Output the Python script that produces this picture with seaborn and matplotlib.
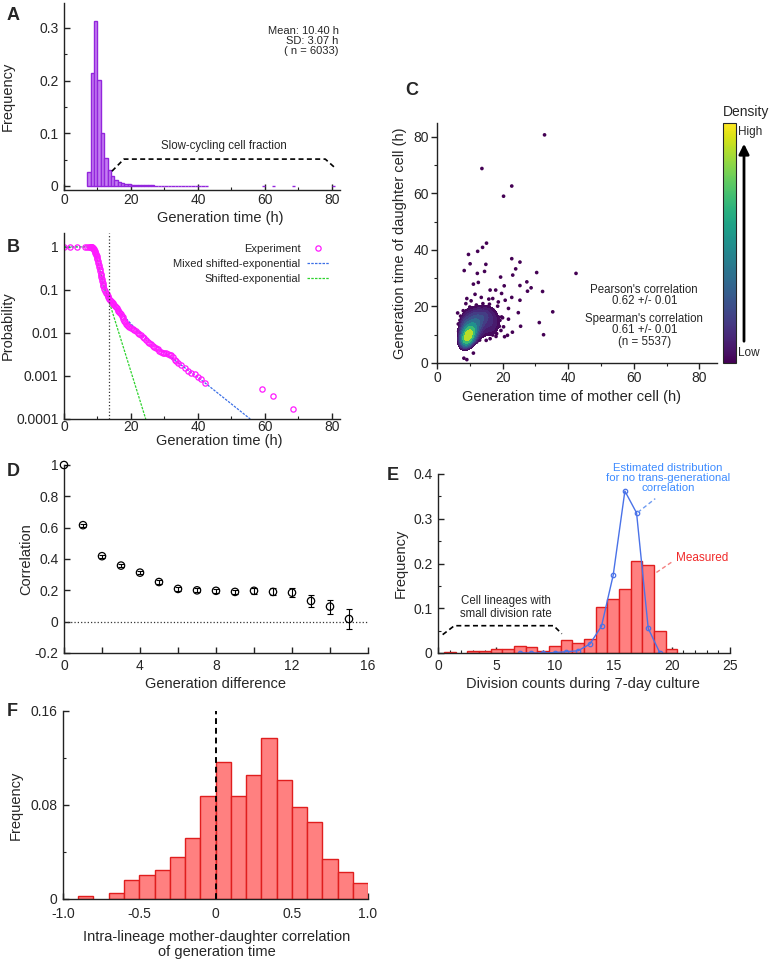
import numpy as np
import pandas as pd
import matplotlib
matplotlib.use("Agg")
import matplotlib.pyplot as plt
import matplotlib.ticker as mticker
from matplotlib.cm import ScalarMappable
from matplotlib.colors import Normalize
from matplotlib.patches import FancyArrowPatch
import seaborn as sns

# === Data ===
# A: generation time histogram (1 h bins, bin centres)
a_bin_center = [7.5, 8.5, 9.5, 10.5, 11.5, 12.5, 13.5, 14.5, 15.5, 16.5, 17.5, 18.5,
                19.5, 20.5, 21.5, 22.5, 23.5, 24.5, 25.5, 26.5, 27.5, 28.5, 29.5,
                30.5, 31.5, 32.5, 33.5, 34.5, 35.5, 36.5, 37.5, 38.5, 39.5, 40.5,
                41.5, 42.5, 59.5, 62.5, 68.5, 80.5]
a_freq = [0.027, 0.214, 0.312, 0.201, 0.100, 0.053, 0.030, 0.018, 0.011, 0.007,
          0.006, 0.004, 0.003, 0.002, 0.002, 0.0015, 0.0015, 0.001, 0.001, 0.001,
          0.0008, 0.0008, 0.0007, 0.0005, 0.0005, 0.0005, 0.0003, 0.0002, 0.0002,
          0.0002, 0.0002, 0.0002, 0.0002, 0.0002, 0.0002, 0.0002,
          0.00017, 0.00017, 0.00017, 0.00017]

# B: survival probability of generation time
b_time = [0.1, 1.8, 4.0, 6.3, 7.0, 7.5, 7.8, 8.0, 8.15, 8.25, 8.4, 8.5, 8.65, 8.75,
          8.9, 9.0, 9.15, 9.25, 9.4, 9.5, 9.65, 9.75, 9.9, 10.0, 10.15, 10.25, 10.4,
          10.5, 10.65, 10.75, 10.9, 11.0, 11.15, 11.25, 11.4, 11.5, 11.65, 11.75,
          12.0, 12.25, 12.5, 12.75, 13.0, 13.25, 13.5, 13.75, 14.0, 14.25, 14.5,
          14.75, 15.0, 15.25, 15.5, 15.75, 16.0, 16.25, 16.5, 16.75, 17.0, 17.25,
          17.5, 17.75, 18.0, 18.25, 18.5, 18.75, 19.0, 19.5, 20.0, 20.5, 21.0, 21.5,
          22.0, 22.5, 23.0, 23.5, 24.0, 24.5, 25.0, 25.5, 26.0, 26.5, 27.0, 27.5,
          28.0, 28.5, 29.0, 29.5, 30.0, 30.5, 31.0, 31.5, 32.0, 32.5, 33.0, 33.5,
          34.0, 35.0, 36.0, 37.0, 38.0, 39.0, 40.0, 41.0, 42.0, 59.0, 62.5, 68.5]
b_prob = [1.0, 1.0, 1.0, 1.0, 1.0, 1.0, 1.0, 0.99, 0.985, 0.98, 0.97, 0.96, 0.94,
          0.92, 0.89, 0.86, 0.82, 0.78, 0.73, 0.69, 0.64, 0.60, 0.55, 0.51, 0.46,
          0.42, 0.37, 0.34, 0.30, 0.28, 0.24, 0.22, 0.195, 0.18, 0.16, 0.145, 0.13,
          0.12, 0.105, 0.093, 0.085, 0.079, 0.073, 0.068, 0.063, 0.059, 0.056,
          0.053, 0.050, 0.047, 0.045, 0.042, 0.040, 0.037, 0.035, 0.033, 0.031,
          0.029, 0.027, 0.025, 0.023, 0.021, 0.019, 0.0177, 0.0165, 0.0156, 0.0148,
          0.0138, 0.0128, 0.0121, 0.0115, 0.0108, 0.0102, 0.0095, 0.0088, 0.0081,
          0.0075, 0.0069, 0.0063, 0.0059, 0.0055, 0.0051, 0.0048, 0.0045, 0.0042,
          0.0039, 0.0036, 0.0035, 0.0035, 0.0034, 0.0033, 0.0031, 0.0030, 0.0027,
          0.0024, 0.0022, 0.0020, 0.0018, 0.0015, 0.0013, 0.0012, 0.0011, 0.00095,
          0.00085, 0.00068, 0.0005, 0.00034, 0.00017]
b_mixed_t = [0, 8.0, 9.75, 10.7, 11.7, 12.9, 15.0, 18.0, 22.0, 30.0, 42.0, 55.6]
b_mixed_p = [1.0, 1.0, 0.6, 0.29, 0.12, 0.075, 0.045, 0.024, 0.011, 0.0035, 0.0007, 0.0001]
b_shift_t = [0, 8.0, 9.75, 11.0, 12.3, 13.3, 24.4]
b_shift_p = [1.0, 1.0, 0.55, 0.24, 0.1, 0.059, 0.0001]
b_threshold = 13.3

# C: mother vs daughter generation time (h)
c_mother = [
    # dense core
    9.3, 9.0, 9.6, 8.8, 9.9, 9.2, 8.6, 9.5, 10.2, 9.1, 8.9, 9.7, 10.0, 9.4, 8.4,
    10.4, 9.8, 9.2, 10.6, 8.7, 9.5, 11.0, 10.1, 8.3, 9.0, 10.8, 11.4, 9.6, 8.5,
    10.3, 12.0, 11.7, 9.9, 8.1, 10.7, 12.5, 11.2, 9.4, 13.0, 10.0, 9.3, 9.7, 9.1,
    9.8, 9.4, 10.1, 8.9, 9.6,
    # surrounding body
    7.0, 8.5, 12.1, 16.2, 18.2, 7.0, 9.0, 12.1, 15.2, 17.2, 18.7, 6.8, 6.6, 7.2,
    7.5, 7.8, 8.0, 8.3, 8.6, 9.0, 9.4, 9.8, 10.2, 10.5, 10.8, 11.2, 11.5, 11.8,
    12.2, 12.5, 12.8, 13.1, 13.4, 13.7, 14.0, 14.2, 14.5, 14.8, 15.1, 15.4, 15.8,
    16.1, 16.5, 16.9, 17.3, 17.7, 18.0, 17.5, 13.0, 11.0, 9.6, 15.0, 12.0, 10.0,
    8.0, 14.0, 16.0, 19.0, 19.5, 6.5, 7.2, 10.4, 13.5, 11.6, 8.8, 15.8, 18.5,
    20.0, 20.3, 17.0,
    7.4, 7.9, 8.2, 8.9, 10.6, 11.3, 11.9, 12.6, 13.3, 14.1, 14.9, 15.6, 16.4, 17.1,
    7.6, 8.4, 9.2, 10.0, 10.9, 11.7, 12.4, 13.2, 13.9, 14.6, 15.5, 16.3, 7.3, 8.7,
    10.3, 11.4, 12.9, 14.4, 16.0, 17.8, 9.5, 11.9, 13.6, 15.9, 18.4, 19.2,
    # outliers
    32.8, 13.7, 22.8, 20.3, 15.1, 13.9, 12.4, 9.6, 10.1, 22.8, 25.3, 14.9, 8.3,
    14.5, 24.0, 23.1, 30.4, 42.4, 19.4, 20.5, 27.4, 28.7, 27.6, 32.2, 25.3, 22.8,
    25.3, 35.3, 31.2, 25.5, 32.5, 23.0, 21.5, 20.6, 24.8, 21.8, 21.8, 6.3, 9.1,
    11.1, 12.6, 12.3, 8.2, 9.1, 11.1, 19.7, 17.9, 16.2, 17.0, 18.7, 20.8, 17.9,
    19.7]
c_daughter = [
    9.0, 9.3, 8.7, 9.5, 9.1, 8.4, 8.8, 9.8, 9.6, 9.9, 8.2, 10.1, 8.6, 8.9, 9.4,
    10.3, 10.6, 7.9, 9.2, 10.0, 11.0, 10.8, 11.4, 8.5, 10.5, 11.9, 10.6, 7.6, 7.8,
    12.4, 12.0, 13.1, 12.9, 9.6, 8.3, 13.6, 9.7, 11.8, 12.2, 7.5, 9.2, 9.4, 8.7,
    9.0, 9.6, 9.8, 9.1, 8.5,
    7.4, 6.3, 7.4, 8.6, 10.4, 15.1, 17.5, 18.9, 19.3, 18.7, 16.3, 9.0, 11.2, 12.8,
    10.3, 8.2, 13.5, 15.8, 11.8, 14.0, 16.2, 12.6, 15.1, 17.8, 13.8, 11.5, 16.4,
    14.5, 12.8, 10.2, 15.6, 17.2, 13.4, 11.6, 9.6, 15.9, 18.2, 12.7, 14.3, 10.8,
    16.8, 13.2, 11.4, 15.0, 12.5, 14.1, 9.4, 17.3, 8.1, 7.1, 6.6, 8.0, 20.5, 19.8,
    18.5, 21.0, 20.8, 13.0, 11.5, 13.8, 16.6, 22.0, 23.2, 24.3, 21.0, 22.6, 20.1,
    16.0, 12.8, 9.9,
    11.9, 14.8, 10.9, 16.9, 17.1, 18.0, 16.9, 17.8, 16.4, 17.3, 16.9, 17.9, 16.4,
    16.1, 14.0, 12.3, 13.2, 13.9, 14.6, 15.6, 14.9, 14.0, 15.3, 16.0, 13.5, 14.7,
    8.6, 7.3, 7.9, 8.8, 9.3, 10.1, 10.6, 11.7, 18.8, 19.9, 19.6, 18.4, 14.6, 15.1,
    80.7, 68.8, 62.6, 59.0, 42.4, 40.9, 39.5, 38.4, 35.1, 36.9, 35.7, 34.9, 32.7,
    32.4, 33.3, 31.1, 32.0, 31.7, 30.4, 27.3, 28.7, 26.6, 25.4, 25.3, 27.4, 23.2,
    22.2, 18.1, 14.3, 13.0, 10.0, 10.9, 9.8, 9.3, 17.8, 15.5, 19.3, 17.7, 22.8,
    27.9, 28.5, 31.7, 1.7, 1.2, 3.5, 24.6, 25.8, 25.8, 22.8, 21.6, 22.2, 17.5,
    16.3]

# D: correlation vs generation difference
d_gen = [0, 1, 2, 3, 4, 5, 6, 7, 8, 9, 10, 11, 12, 13, 14, 15]
d_corr = [1.0, 0.616, 0.418, 0.358, 0.313, 0.253, 0.209, 0.200, 0.197, 0.190,
          0.197, 0.190, 0.185, 0.132, 0.096, 0.017]
d_err = [0.0, 0.01, 0.01, 0.01, 0.01, 0.01, 0.012, 0.012, 0.012, 0.015, 0.02,
         0.022, 0.027, 0.037, 0.045, 0.062]

# E: division counts during 7-day culture
e_div = [1, 3, 4, 5, 6, 7, 8, 9, 10, 11, 12, 13, 14, 15, 16, 17, 18, 19, 20]
e_measured = [0.003, 0.005, 0.005, 0.008, 0.008, 0.016, 0.013, 0.005, 0.016,
              0.029, 0.023, 0.031, 0.102, 0.121, 0.143, 0.206, 0.197, 0.050, 0.009]
e_est_div = [7, 8, 9, 10, 11, 12, 13, 14, 15, 16, 17, 18, 19]
e_estimated = [0.0, 0.0, 0.0, 0.001, 0.003, 0.005, 0.02, 0.06, 0.174, 0.362,
               0.313, 0.055, 0.0]

# F: intra-lineage mother-daughter correlation
f_bin_center = [-0.85, -0.65, -0.55, -0.45, -0.35, -0.25, -0.15, -0.05, 0.05,
                0.15, 0.25, 0.35, 0.45, 0.55, 0.65, 0.75, 0.85, 0.95]
f_freq = [0.0023, 0.0048, 0.0159, 0.0204, 0.025, 0.036, 0.0516, 0.0874, 0.1166,
          0.0874, 0.1052, 0.1367, 0.1013, 0.0786, 0.0652, 0.0338, 0.0227, 0.0139]

W, H = 772, 959
TICK = 10
LAB = 10.5
AXC = "#222222"


def px_box(left, top, right, bottom):
    return [left / W, 1 - bottom / H, (right - left) / W, (bottom - top) / H]


def style_axis(ax, direction="in", xpad=1.5):
    sns.despine(ax=ax)
    for s in ("left", "bottom"):
        ax.spines[s].set_color(AXC)
        ax.spines[s].set_linewidth(1.0)
    ax.tick_params(which="major", direction=direction, length=4, width=1, color=AXC,
                   labelsize=TICK)
    ax.tick_params(which="minor", direction=direction, length=2.5, width=0.8, color=AXC)
    if direction == "in":
        ax.tick_params(axis="x", which="major", pad=xpad)
        ax.tick_params(axis="y", which="major", pad=4)
    else:
        ax.tick_params(which="major", pad=2)
    ax.grid(False)


def fmt_g(x, pos):
    return f"{round(x, 3):g}"


def freq_bars(ax, x, h, color, edge):
    # histogram bars from pre-binned frequencies, placed on a numeric axis
    sns.barplot(x=x, y=h, ax=ax, native_scale=True, width=1, color=color,
                edgecolor=edge, linewidth=1.0, saturation=1, errorbar=None)


def panel_a(fig):
    ax = fig.add_axes(px_box(64, 3, 340, 190))
    freq_bars(ax, a_bin_center, a_freq, "#c47ef2", "#9326dc")
    ax.set_xlim(0, 82.4)
    ax.set_ylim(-0.0076, 0.347)
    ax.xaxis.set_major_locator(mticker.MultipleLocator(20))
    ax.xaxis.set_major_formatter(mticker.FuncFormatter(fmt_g))
    ax.xaxis.set_minor_locator(mticker.MultipleLocator(10))
    ax.yaxis.set_major_locator(mticker.FixedLocator([0, 0.1, 0.2, 0.3]))
    ax.yaxis.set_minor_locator(mticker.FixedLocator([0.05, 0.15, 0.25]))
    ax.yaxis.set_major_formatter(mticker.FuncFormatter(fmt_g))
    style_axis(ax, xpad=2.5)
    ax.set_xlabel("Generation time (h)", fontsize=LAB)
    ax.set_ylabel("Frequency", fontsize=LAB)
    ax.xaxis.set_label_coords(0.565, -0.114)
    ax.yaxis.set_label_coords(-0.178, 0.5)
    ax.text(0.995, 0.875, "Mean: 10.40 h\nSD: 3.07 h\n( n = 6033)", transform=ax.transAxes,
            ha="right", va="top", fontsize=8, linespacing=1.0)
    ax.plot([14.3, 17.9, 78.0, 81.0], [0.028, 0.051, 0.051, 0.034], ls="--",
            color="black", lw=1.2, dashes=(3, 2))
    ax.text(47.8, 0.064, "Slow-cycling cell fraction", ha="center", va="bottom", fontsize=8.3)


def panel_b(fig):
    ax = fig.add_axes(px_box(64, 233, 340, 419))
    ax.set_yscale("log")
    sns.lineplot(x=b_mixed_t, y=b_mixed_p, ax=ax, color="#3b6fe6", lw=0.9,
                 linestyle=(0, (2, 1)), sort=False)
    sns.lineplot(x=b_shift_t, y=b_shift_p, ax=ax, color="#2ed32e", lw=0.9,
                 linestyle=(0, (2, 1)), sort=False)
    sns.lineplot(x=b_time, y=b_prob, ax=ax, linestyle="", marker="o", markersize=3.8,
                 markerfacecolor="none", markeredgecolor="#ff1aff", markeredgewidth=0.9,
                 sort=False)
    ax.axvline(b_threshold, color="#333333", ls=":", lw=0.9)
    lines = ax.get_lines()
    ax.legend(handles=[lines[2], lines[0], lines[1]],
              labels=["Experiment", "Mixed shifted-exponential", "Shifted-exponential"],
              loc="upper right", frameon=False, markerfirst=False, fontsize=8,
              handlelength=2.0, handletextpad=0.6, borderaxespad=0.55, labelspacing=0.45)
    ax.set_xlim(0, 82.4)
    ax.set_ylim(1e-4, 2.1)
    ax.xaxis.set_major_locator(mticker.MultipleLocator(20))
    ax.xaxis.set_minor_locator(mticker.MultipleLocator(10))
    ax.yaxis.set_major_locator(mticker.FixedLocator([1e-4, 1e-3, 1e-2, 1e-1, 1]))
    ax.yaxis.set_major_formatter(mticker.FixedFormatter(["0.0001", "0.001", "0.01", "0.1", "1"]))
    ax.yaxis.set_minor_locator(mticker.NullLocator())
    style_axis(ax, xpad=1.0)
    ax.set_xlabel("Generation time (h)", fontsize=LAB)
    ax.set_ylabel("Probability", fontsize=LAB)
    ax.xaxis.set_label_coords(0.563, -0.082)
    ax.yaxis.set_label_coords(-0.178, 0.5)


def panel_c(fig):
    ax = fig.add_axes(px_box(437, 123, 717, 363))
    dark = plt.get_cmap("viridis")(0.0)
    sns.scatterplot(x=c_mother, y=c_daughter, ax=ax, s=7, color=dark, edgecolor="none",
                    linewidth=0)
    sns.kdeplot(x=c_mother, y=c_daughter, ax=ax, fill=True, cmap="viridis",
                levels=10, thresh=0.42, bw_adjust=0.55)
    ax.set_xlim(0, 85.4)
    ax.set_ylim(0, 84.9)
    for axis in (ax.xaxis, ax.yaxis):
        axis.set_major_locator(mticker.MultipleLocator(20))
        axis.set_minor_locator(mticker.MultipleLocator(10))
    style_axis(ax, direction="out")
    ax.set_xlabel("Generation time of mother cell (h)", fontsize=LAB)
    ax.set_ylabel("Generation time of daughter cell (h)", fontsize=LAB)
    ax.xaxis.set_label_coords(0.481, -0.1125)
    ax.yaxis.set_label_coords(-0.107, 0.5)
    for y, s in [(26.0, "Pearson's correlation"), (22.0, "0.62 +/- 0.01"),
                 (15.7, "Spearman's correlation"), (11.6, "0.61 +/- 0.01"),
                 (7.4, "(n = 5537)")]:
        ax.text(63.2, y, s, ha="center", va="center", fontsize=8.3)

    cax = fig.add_axes(px_box(723, 123, 736, 363))
    sm = ScalarMappable(norm=Normalize(0, 1), cmap="viridis")
    cb = fig.colorbar(sm, cax=cax)
    cb.set_ticks([])
    cb.outline.set_linewidth(0.8)
    fig.text(746 / W, 1 - 112 / H, "Density", ha="center", va="center", fontsize=10)
    fig.text(738 / W, 1 - 132 / H, "High", ha="left", va="center", fontsize=8.5)
    fig.text(738 / W, 1 - 353 / H, "Low", ha="left", va="center", fontsize=8.5)
    fig.add_artist(FancyArrowPatch(
        (744 / W, 1 - 344 / H), (744 / W, 1 - 141 / H), transform=fig.transFigure,
        arrowstyle="-|>,head_length=6,head_width=3", color="black", lw=2))


def panel_d(fig):
    ax = fig.add_axes(px_box(64, 465, 368, 653))
    ax.axhline(0, color="#333333", ls=":", lw=0.9)
    ax.errorbar(d_gen, d_corr, yerr=d_err, fmt="none", ecolor="black", elinewidth=0.8,
                capsize=2, capthick=0.8)
    sns.scatterplot(x=d_gen, y=d_corr, ax=ax, marker="o", s=28, facecolor="none",
                    edgecolor="black", linewidth=0.9, clip_on=False, zorder=3)
    ax.set_xlim(0, 16)
    ax.set_ylim(-0.2, 1.0)
    ax.xaxis.set_major_locator(mticker.MultipleLocator(4))
    ax.xaxis.set_minor_locator(mticker.MultipleLocator(2))
    ax.yaxis.set_major_locator(mticker.MultipleLocator(0.2))
    ax.yaxis.set_major_formatter(mticker.FuncFormatter(fmt_g))
    style_axis(ax, xpad=4)
    ax.tick_params(which="minor", length=4, width=1)
    ax.set_xlabel("Generation difference", fontsize=LAB)
    ax.set_ylabel("Correlation", fontsize=LAB)
    ax.xaxis.set_label_coords(0.497, -0.13)
    ax.yaxis.set_label_coords(-0.102, 0.5)


def panel_e(fig):
    ax = fig.add_axes(px_box(438, 474, 730, 653))
    freq_bars(ax, e_div, e_measured, "#ff8080", "#e01e1e")
    sns.lineplot(x=e_est_div, y=e_estimated, ax=ax, color="#4a72e8", lw=1.0,
                 marker="o", markersize=3.2, markerfacecolor="none",
                 markeredgecolor="#4a72e8", markeredgewidth=0.9)
    ax.set_xlim(0, 25)
    ax.set_ylim(0, 0.4)
    ax.xaxis.set_major_locator(mticker.MultipleLocator(5))
    ax.xaxis.set_major_formatter(mticker.FuncFormatter(fmt_g))
    ax.xaxis.set_minor_locator(mticker.MultipleLocator(1))
    ax.yaxis.set_major_locator(mticker.MultipleLocator(0.1))
    ax.yaxis.set_minor_locator(mticker.MultipleLocator(0.05))
    ax.yaxis.set_major_formatter(mticker.FuncFormatter(fmt_g))
    style_axis(ax, xpad=4)
    ax.set_xlabel("Division counts during 7-day culture", fontsize=LAB)
    ax.set_ylabel("Frequency", fontsize=LAB)
    ax.xaxis.set_label_coords(0.497, -0.132)
    ax.yaxis.set_label_coords(-0.103, 0.5)

    ax.text(19.7, 0.391, "Estimated distribution\nfor no trans-generational\ncorrelation",
            ha="center", va="center", fontsize=8.2, color="#3d8bff", linespacing=1.05,
            clip_on=False)
    ax.plot([17.1, 18.6], [0.314, 0.345], ls="--", color="#6f9bf0", lw=1.0, dashes=(3, 2))
    ax.text(20.4, 0.212, "Measured", ha="left", va="center", fontsize=8.5, color="#f02a2a")
    ax.plot([18.7, 20.0], [0.180, 0.203], ls="--", color="#f48080", lw=1.0, dashes=(3, 2))
    ax.text(5.84, 0.102, "Cell lineages with\nsmall division rate", ha="center",
            va="center", fontsize=8.3, linespacing=1.05)
    ax.plot([0.4, 1.4, 9.9, 10.6], [0.041, 0.061, 0.061, 0.043], ls="--",
            color="black", lw=1.2, dashes=(3, 2))


def panel_f(fig):
    ax = fig.add_axes(px_box(63, 711, 368, 899))
    freq_bars(ax, f_bin_center, f_freq, "#ff8080", "#e01e1e")
    ax.axvline(0, color="black", ls="--", lw=1.4, dashes=(3, 2))
    ax.set_xlim(-1, 1)
    ax.set_ylim(0, 0.16)
    ax.xaxis.set_major_locator(mticker.FixedLocator([-1, -0.5, 0, 0.5, 1]))
    ax.xaxis.set_major_formatter(mticker.FixedFormatter(["-1.0", "-0.5", "0", "0.5", "1.0"]))
    ax.yaxis.set_major_locator(mticker.FixedLocator([0, 0.08, 0.16]))
    ax.yaxis.set_minor_locator(mticker.FixedLocator([0.04, 0.12]))
    ax.yaxis.set_major_formatter(mticker.FixedFormatter(["0", "0.08", "0.16"]))
    style_axis(ax, xpad=6)
    ax.set_xlabel("Intra-lineage mother-daughter correlation\nof generation time",
                  fontsize=LAB, linespacing=1.1)
    ax.set_ylabel("Frequency", fontsize=LAB)
    ax.xaxis.set_label_coords(0.503, -0.165)
    ax.yaxis.set_label_coords(-0.131, 0.5)


def main():
    sns.set_style("ticks")
    plt.rcParams["font.family"] = ["Liberation Sans", "DejaVu Sans"]
    fig = plt.figure(figsize=(W / 100, H / 100), dpi=100)

    panel_a(fig)
    panel_b(fig)
    panel_c(fig)
    panel_d(fig)
    panel_e(fig)
    panel_f(fig)

    for letter, x, y in [("A", 7, 7), ("B", 7, 239), ("C", 405, 82),
                         ("D", 7, 463), ("E", 387, 467), ("F", 7, 703)]:
        fig.text(x / W, 1 - y / H, letter, ha="left", va="top", fontsize=13,
                 fontweight="bold")

    fig.savefig("out.png", dpi=100)
    plt.close(fig)


if __name__ == "__main__":
    main()
